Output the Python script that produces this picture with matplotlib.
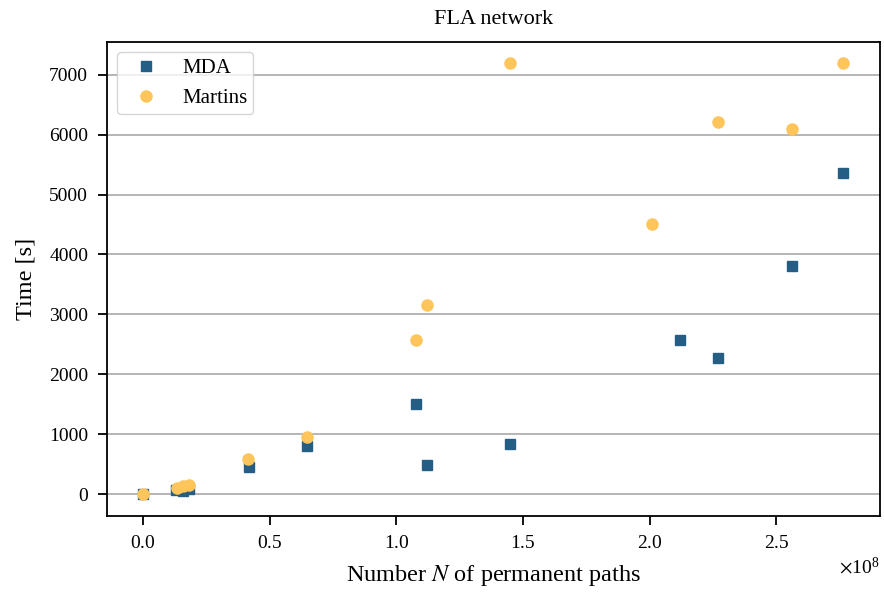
import numpy as np
import matplotlib.pyplot as plt

# number of permanent paths and run times (seconds)
n_mda = [0.0, 0.13e8, 0.16e8, 0.18e8, 0.42e8, 0.647e8, 1.077e8, 1.12e8, 1.448e8, 2.118e8, 2.268e8, 2.56e8, 2.761e8]
t_mda = [0, 70, 55, 80, 460, 800, 1500, 485, 835, 2570, 2270, 3810, 5360]

n_martins = [0.0, 0.134e8, 0.158e8, 0.181e8, 0.414e8, 0.647e8, 1.077e8, 1.12e8, 1.448e8, 2.008e8, 2.268e8, 2.56e8, 2.761e8]
t_martins = [0, 100, 130, 150, 585, 950, 2570, 3155, 7200, 4510, 6215, 6100, 7200]

plt.rcParams['font.family'] = ['Liberation Serif', 'DejaVu Serif']
plt.rcParams['mathtext.fontset'] = 'stix'

fig, ax = plt.subplots(figsize=(8.84, 5.96), dpi=100)
fig.subplots_adjust(left=0.121, right=0.995, top=0.93, bottom=0.134)

ax.plot(n_mda, t_mda, 's', color='#255e85', markersize=7.5, label='MDA', zorder=3)
ax.plot(n_martins, t_martins, 'o', color='#fdc55a', markersize=8, label='Martins', zorder=3)

ax.set_xlim(-0.142e8, 2.907e8)
ax.set_ylim(-367, 7551)
ax.set_yticks(np.arange(0, 7001, 1000))
ax.set_xticks([0, 0.5e8, 1.0e8, 1.5e8, 2.0e8, 2.5e8])
ax.ticklabel_format(axis='x', style='sci', scilimits=(0, 0), useMathText=True)
ax.xaxis.get_offset_text().set_fontsize(14)

ax.yaxis.grid(True, color='#b0b0b0', linewidth=1.3)
ax.set_axisbelow(True)

ax.tick_params(labelsize=14, length=6.5, width=1.3, pad=7)
for s in ax.spines.values():
    s.set_linewidth(1.3)

ax.set_title('FLA network', fontsize=16, pad=12.5)
ax.set_xlabel('Number $N$ of permanent paths', fontsize=17.5, labelpad=8)
ax.set_ylabel('Time [s]', fontsize=17.5, labelpad=9)
ax.legend(loc='upper left', fontsize=15, borderpad=0.3, handlelength=2.1,
          handletextpad=0.7, edgecolor='#cccccc', framealpha=0.8)

fig.savefig('out.png', dpi=100)
